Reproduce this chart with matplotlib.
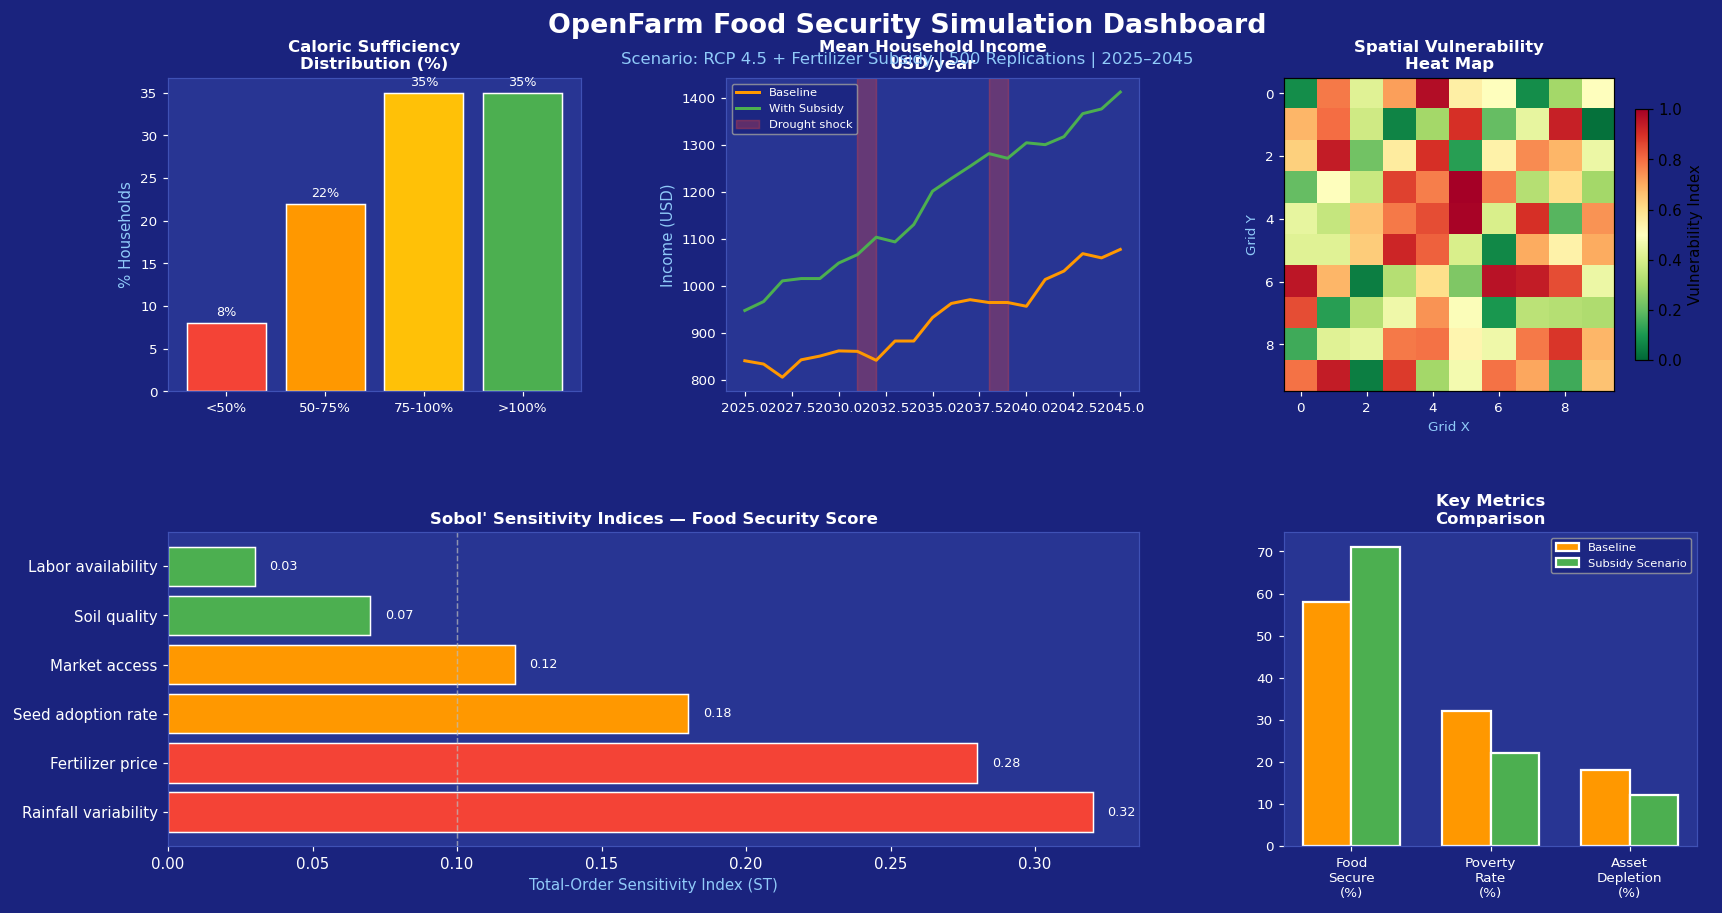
import numpy as np
import matplotlib
matplotlib.use("Agg")
import matplotlib.pyplot as plt

# -----------------------
# Data
# -----------------------
cal_bins = ["<50%", "50-75%", "75-100%", ">100%"]
cal_share = [8, 22, 35, 35]

years = list(range(2025, 2046))
income_base = [840, 833, 805, 842, 850, 861, 860, 841, 882, 882, 932, 962, 970,
               964, 964, 956, 1013, 1031, 1068, 1059, 1077]
income_sub = [947, 966, 1010, 1015, 1015, 1048, 1066, 1103, 1093, 1130, 1201, 1228,
              1254, 1281, 1271, 1304, 1300, 1317, 1366, 1376, 1412]
drought_years = [(2031, 2032), (2038, 2039)]

vuln = np.array([
    [0.08, 0.78, 0.42, 0.72, 0.97, 0.55, 0.50, 0.08, 0.30, 0.50],
    [0.68, 0.80, 0.38, 0.06, 0.30, 0.90, 0.20, 0.44, 0.93, 0.02],
    [0.63, 0.94, 0.22, 0.56, 0.90, 0.12, 0.54, 0.75, 0.68, 0.45],
    [0.20, 0.50, 0.37, 0.87, 0.77, 1.00, 0.77, 0.33, 0.60, 0.30],
    [0.44, 0.36, 0.66, 0.78, 0.85, 0.99, 0.40, 0.90, 0.18, 0.74],
    [0.42, 0.42, 0.64, 0.92, 0.82, 0.40, 0.07, 0.70, 0.54, 0.70],
    [0.95, 0.68, 0.05, 0.33, 0.60, 0.24, 0.96, 0.94, 0.85, 0.45],
    [0.85, 0.12, 0.33, 0.46, 0.74, 0.49, 0.10, 0.34, 0.33, 0.32],
    [0.15, 0.42, 0.44, 0.78, 0.79, 0.53, 0.46, 0.78, 0.89, 0.68],
    [0.79, 0.94, 0.05, 0.88, 0.30, 0.47, 0.79, 0.71, 0.15, 0.66],
])

params = ["Rainfall variability", "Fertilizer price", "Seed adoption rate",
          "Market access", "Soil quality", "Labor availability"]
sobol_st = [0.32, 0.28, 0.18, 0.12, 0.07, 0.03]

metrics = ["Food\nSecure\n(%)", "Poverty\nRate\n(%)", "Asset\nDepletion\n(%)"]
metric_base = [58, 32, 18]
metric_sub = [71, 22, 12]

# -----------------------
# Style
# -----------------------
BG = "#1a237e"
AX_BG = "#283593"
SPINE = "#3f51b5"
LABEL = "#90caf9"
RED, ORANGE, AMBER, GREEN = "#F44336", "#FF9800", "#FFC107", "#4CAF50"

DPI = 107.625
fig = plt.figure(figsize=(16, 8.485), dpi=DPI, facecolor=BG)
gs = fig.add_gridspec(2, 3, left=0.0976, right=0.9855, top=0.9146, bottom=0.0734,
                      wspace=0.351, hspace=0.449)


def style(ax, size=9):
    ax.set_facecolor(AX_BG)
    ax.tick_params(colors="white", labelsize=size)
    for s in ax.spines.values():
        s.set_color(SPINE)


# -----------------------
# Caloric sufficiency
# -----------------------
ax1 = fig.add_subplot(gs[0, 0])
style(ax1)
bars = ax1.bar(cal_bins, cal_share, color=[RED, ORANGE, AMBER, GREEN],
               edgecolor="white", linewidth=1)
for b, v in zip(bars, cal_share):
    ax1.text(b.get_x() + b.get_width() / 2, v + 0.5, f"{v}%", ha="center",
             va="bottom", color="white", fontsize=8.5)
ax1.set_ylabel("% Households", color=LABEL, fontsize=10)
ax1.set_title("Caloric Sufficiency\nDistribution (%)", color="white",
              fontsize=11, fontweight="bold")

# -----------------------
# Income trajectories
# -----------------------
ax2 = fig.add_subplot(gs[0, 1])
style(ax2)
ax2.plot(years, income_base, color=ORANGE, lw=2, label="Baseline")
ax2.plot(years, income_sub, color=GREEN, lw=2, label="With Subsidy")
for i, (a, b) in enumerate(drought_years):
    ax2.axvspan(a, b, color=RED, alpha=0.3,
                label="Drought shock" if i == 0 else None)
ax2.set_ylabel("Income (USD)", color=LABEL, fontsize=10)
ax2.set_title("Mean Household Income\nUSD/year", color="white",
              fontsize=11, fontweight="bold")
ax2.legend(loc="upper left", fontsize=7.7, facecolor=BG, edgecolor="#9e9e9e",
           labelcolor="white")

# -----------------------
# Vulnerability heat map
# -----------------------
ax3 = fig.add_subplot(gs[0, 2])
ax3.tick_params(colors="white", labelsize=9)
im = ax3.imshow(vuln, cmap="RdYlGn_r", vmin=0, vmax=1, aspect="auto")
cb = fig.colorbar(im, ax=ax3, shrink=0.8)
cb.set_label("Vulnerability Index")
ax3.set_xlabel("Grid X", color=LABEL, fontsize=9)
ax3.set_ylabel("Grid Y", color=LABEL, fontsize=9)
ax3.set_title("Spatial Vulnerability\nHeat Map", color="white",
              fontsize=11, fontweight="bold")

# -----------------------
# Sobol sensitivity
# -----------------------
ax4 = fig.add_subplot(gs[1, :2])
style(ax4, size=10)
cols = [RED if v > 0.2 else ORANGE if v > 0.1 else GREEN for v in sobol_st]
ax4.barh(params, sobol_st, color=cols, edgecolor="white", linewidth=1)
for i, v in enumerate(sobol_st):
    ax4.text(v + 0.005, i, f"{v:.2f}", va="center", color="white", fontsize=8.5)
ax4.axvline(0.1, color="#bdbdbd", ls="--", lw=1, alpha=0.7)
ax4.set_xlabel("Total-Order Sensitivity Index (ST)", color=LABEL, fontsize=10)
ax4.set_title("Sobol' Sensitivity Indices — Food Security Score", color="white",
              fontsize=11, fontweight="bold")

# -----------------------
# Key metrics
# -----------------------
ax5 = fig.add_subplot(gs[1, 2])
style(ax5)
x = np.arange(len(metrics))
w = 0.35
ax5.bar(x - w / 2, metric_base, w, color=ORANGE, edgecolor="white",
        linewidth=1.5, label="Baseline")
ax5.bar(x + w / 2, metric_sub, w, color=GREEN, edgecolor="white",
        linewidth=1.5, label="Subsidy Scenario")
ax5.set_xticks(x)
ax5.set_xticklabels(metrics)
ax5.legend(loc="upper right", fontsize=7.7, facecolor=BG, edgecolor="#9e9e9e",
           labelcolor="white")
ax5.set_title("Key Metrics\nComparison", color="white", fontsize=11,
              fontweight="bold")

fig.suptitle("OpenFarm Food Security Simulation Dashboard", color="white",
             fontsize=18, fontweight="bold", x=0.527, y=0.972, va="center")
fig.text(0.527, 0.934, "Scenario: RCP 4.5 + Fertilizer Subsidy | 500 Replications | 2025–2045",
         ha="center", va="center", color=LABEL, fontsize=11)

fig.savefig("out.png", dpi=DPI, facecolor=BG)
